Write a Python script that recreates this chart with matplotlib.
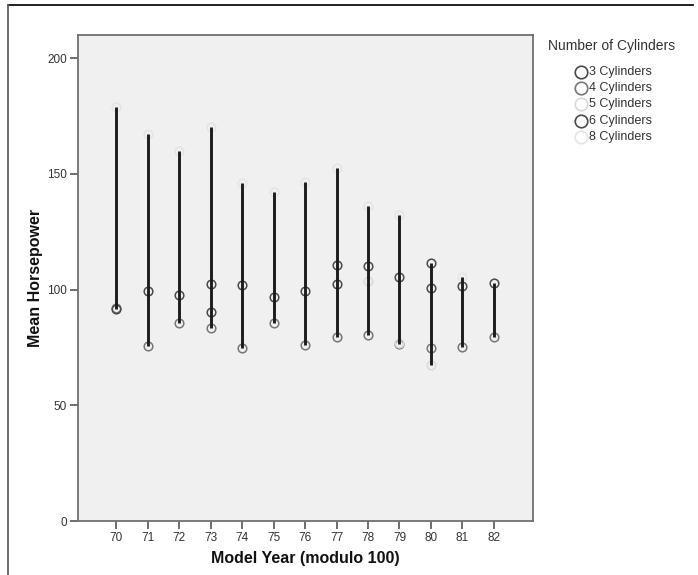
import numpy as np
import matplotlib
matplotlib.use("Agg")
import matplotlib.pyplot as plt
from matplotlib.lines import Line2D

plt.rcParams['font.family'] = ['Liberation Sans', 'DejaVu Sans']

nan = np.nan
years = ["70", "71", "72", "73", "74", "75", "76", "77", "78", "79", "80", "81", "82"]
hp_3 = [nan, nan, 97.5, 90.5, nan, nan, nan, 110.5, nan, nan, 100.7, nan, nan]
hp_4 = [92.0, 75.8, 85.5, 83.3, 74.6, 85.5, 76.1, 79.3, 80.3, 76.4, 74.6, 75.4, 79.7]
hp_5 = [nan, nan, nan, nan, nan, nan, nan, nan, 103.6, 77.0, 67.3, nan, nan]
hp_6 = [91.5, 99.2, nan, 102.5, 102.1, 97.0, 99.2, 102.4, 110.3, 105.4, 111.5, 101.4, 102.8]
hp_8 = [178.7, 167.2, 159.7, 170.4, 146.2, 142.3, 146.6, 152.4, 136.1, 132.2, nan, 105.4, nan]

series_labels = ["3 Cylinders", "4 Cylinders", "5 Cylinders", "6 Cylinders", "8 Cylinders"]
series_vals = [hp_3, hp_4, hp_5, hp_6, hp_8]
series_colors = ["#4a4a4a", "#767676", "#dadada", "#4a4a4a", "#e4e4e4"]

fig = plt.figure(figsize=(6.98, 5.75), dpi=100)
ax = fig.add_axes([78/698, 1 - 521/575, 455/698, 486/575])
ax.set_facecolor("#f0f0f0")

x = np.arange(len(years))
data = np.array(series_vals, dtype=float)
lo = np.nanmin(data, axis=0)
hi = np.nanmax(data, axis=0)

for vals, col in zip(series_vals, series_colors):
    ax.plot(x, vals, linestyle="none", marker="o", markersize=6.2,
            markerfacecolor="none", markeredgecolor=col, markeredgewidth=1.1, zorder=2)

ax.vlines(x, lo, hi, colors="#1c1c1c", linewidth=2.1, zorder=3)

ax.set_xlim(-1.21, 13.24)
ax.set_ylim(0, 210)
ax.set_xticks(x)
ax.set_xticklabels(years)
ax.set_yticks([0, 50, 100, 150, 200])

for s in ax.spines.values():
    s.set_color("#707070")
    s.set_linewidth(1.3)
ax.tick_params(axis="both", colors="#555555", length=6, width=1.2,
               labelsize=8.5, labelcolor="#333333", pad=2)

ax.set_xlabel("Model Year (modulo 100)", fontsize=11.5, fontweight="bold",
              color="#111111", labelpad=5)
ax.set_ylabel("Mean Horsepower", fontsize=11.5, fontweight="bold",
              color="#111111", labelpad=3)

# legend drawn manually in figure pixel coordinates
W, H = 698, 575
fig.text(548/W, 1 - 46/H, "Number of Cylinders", fontsize=10, color="#333333",
         ha="left", va="center")
for i, (lab, col) in enumerate(zip(series_labels, series_colors)):
    yy = 1 - (72 + 16.2 * i)/H
    fig.add_artist(Line2D([581/W], [yy], transform=fig.transFigure, linestyle="none",
                          marker="o", markersize=9, markerfacecolor="none",
                          markeredgecolor=col, markeredgewidth=1.2))
    fig.text(589/W, yy, lab, fontsize=9, color="#333333", ha="left", va="center")

# outer frame (top and left edges)
fig.add_artist(Line2D([8/W, 693/W], [1 - 5/H, 1 - 5/H],
                      transform=fig.transFigure, color="#111111", linewidth=1.3))
fig.add_artist(Line2D([8/W, 8/W], [0, 1 - 5/H],
                      transform=fig.transFigure, color="#606060", linewidth=1.3))

fig.savefig("out.png", dpi=100)
